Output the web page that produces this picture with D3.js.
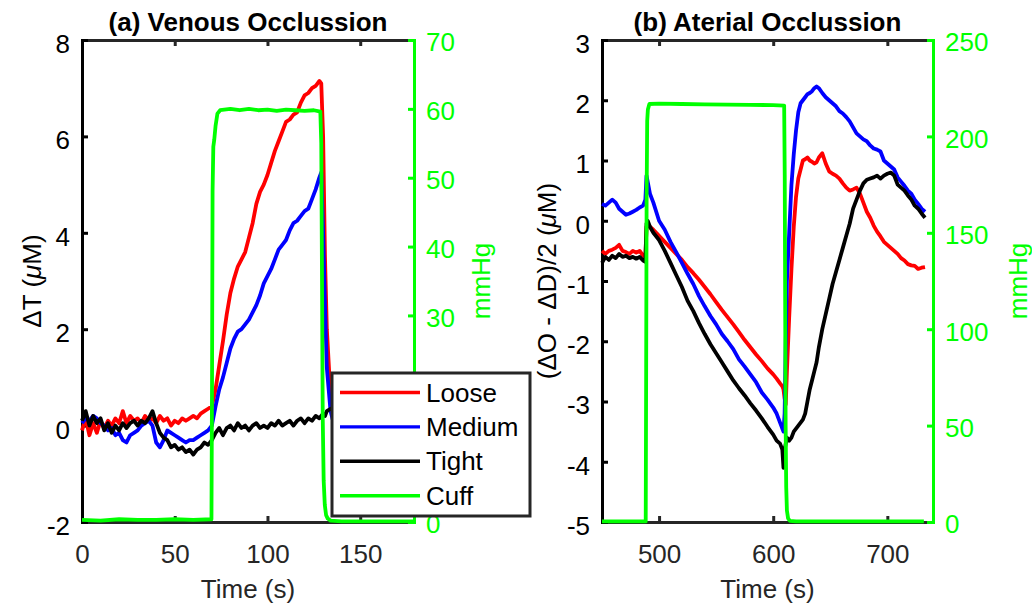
<!DOCTYPE html>
<html>
<head>
<meta charset="utf-8">
<script src="https://cdn.jsdelivr.net/npm/d3@7"></script>
<style>
body { margin: 0; background: #fff; }
svg text { font-family: "Liberation Sans", Arial, Helvetica, sans-serif; }
</style>
</head>
<body>
<svg id="chart" width="1032" height="607"></svg>
<script>
//------------------------------------------------------------
//--------------------------- DADOS ---------------------------
// (a) oclusao venosa - tempo (s) e sinais (uM)
var tVen = [0,2,4,6,8,10,12,14,16,18,
  20,22,24,26,28,30,32,34,36,38,
  40,42,44,46,48,50,52,54,56,58,
  60,62,64,66,68,70,72,74,76,78,
  80,82,84,86,88,90,92,94,96,98,
  100,102,104,106,108,110,112,114,116,118,
  120,122,124,126,128,129,130,131,132,134,
  136,138,140,145,150,155,160,165,170,175,
  178];
var looseVen = [-0.1,0.15,-0.2,0.05,-0.15,0.1,-0.05,0.1,0.0,0.15,
  0.05,0.3,0.05,0.2,0.1,0.15,0.05,0.2,0.1,0.15,
  0.05,0.2,0.1,0.15,0.0,0.1,0.05,0.15,0.1,0.15,
  0.2,0.15,0.25,0.3,0.35,0.4,0.75,1.25,1.75,2.3,
  2.75,3.05,3.3,3.45,3.6,3.9,4.2,4.6,4.85,5.0,
  5.2,5.45,5.7,5.9,6.1,6.3,6.35,6.45,6.5,6.7,
  6.85,6.9,7.0,7.05,7.15,7.1,6.0,3.5,2.0,0.6,
  0.2,0.1,0.1,0.05,0.0,0.05,0.0,0.05,0.0,0.05,
  0.0];
var mediumVen = [0.05,0.15,0.1,0.2,0.15,0.05,0.0,-0.1,-0.05,-0.2,
  -0.15,-0.3,-0.35,-0.2,-0.15,-0.1,0.0,0.05,0.1,0.0,
  -0.35,-0.45,-0.3,-0.1,-0.15,-0.2,-0.25,-0.3,-0.35,-0.3,
  -0.3,-0.25,-0.2,-0.15,-0.1,0.0,0.4,0.75,1.0,1.3,
  1.6,1.8,1.95,2.0,2.1,2.2,2.35,2.5,2.7,2.95,
  3.1,3.25,3.45,3.65,3.75,3.85,4.05,4.2,4.25,4.35,
  4.45,4.5,4.7,4.9,5.15,5.25,4.0,2.5,1.2,0.3,
  0.0,-0.05,0.0,0.05,0.0,0.1,0.05,0.1,0.05,0.1,
  0.1];
var tightVen = [0.1,0.3,0.0,0.2,0.05,0.15,-0.1,0.05,-0.15,0.0,
  -0.1,0.05,-0.05,0.05,0.1,0.0,0.1,0.05,0.15,0.3,
  0.05,-0.15,-0.25,-0.3,-0.45,-0.4,-0.5,-0.45,-0.55,-0.5,
  -0.6,-0.5,-0.45,-0.35,-0.4,-0.3,-0.15,-0.05,-0.2,-0.05,
  0.0,-0.1,0.05,-0.05,0.0,-0.1,0.0,0.05,-0.05,0.0,
  -0.05,0.05,0.0,0.1,0.0,0.05,0.1,0.0,0.1,0.15,
  0.05,0.15,0.1,0.2,0.15,0.2,0.25,0.2,0.3,0.35,
  0.3,0.35,0.3,0.35,0.3,0.35,0.3,0.35,0.3,0.35,
  0.3];
// pressao do manguito (mmHg)
var tCuffVen = [0,10,20,30,40,50,60,69.8,70.1,70.4,70.8,71.3,72,73,74.5,
  80,85,90,95,100,105,110,115,120,125,
  128.5,129.0,129.4,129.8,130.3,130.9,131.6,132.5,134,
  140,150,160,170,179];
var cuffVen = [0.3,0.2,0.4,0.3,0.3,0.4,0.3,0.4,20,48,54.5,55.5,57.5,59.3,59.8,
  60.0,59.8,60.0,59.8,59.9,59.7,59.9,59.8,59.7,59.8,
  59.6,55,35,15,6,2.5,1.0,0.5,0.2,
  0.1,0.1,0.1,0.1,0.1];

// (b) oclusao arterial
var tArt = [450,453,456,459,462,465,468,471,474,477,
  480,483,486,488,489,490,492,495,500,505,
  510,515,520,525,530,535,540,545,550,555,
  560,565,570,575,580,585,590,595,600,603,
  606,608,609,610,611,612,614,616,618,620,
  622,624,626,628,630,632,634,636,638,640,
  643,646,649,652,655,658,661,664,667,670,
  673,676,679,682,685,688,691,694,697,700,
  703,706,709,712,715,718,721,724,727,730,
  733];
var looseArt = [-0.5,-0.55,-0.5,-0.48,-0.45,-0.4,-0.5,-0.52,-0.55,-0.5,
  -0.53,-0.5,-0.58,-0.6,-0.1,-0.05,-0.1,-0.15,-0.25,-0.35,
  -0.45,-0.55,-0.65,-0.77,-0.87,-0.98,-1.1,-1.22,-1.35,-1.48,
  -1.6,-1.72,-1.85,-1.98,-2.1,-2.22,-2.33,-2.45,-2.55,-2.62,
  -2.7,-2.75,-2.8,-2.95,-3.05,-2.5,-1.6,-0.8,-0.1,0.4,
  0.7,0.85,1.0,1.02,1.05,1.0,0.98,0.95,0.97,1.05,
  1.12,0.95,0.82,0.78,0.75,0.7,0.62,0.55,0.5,0.52,
  0.55,0.45,0.3,0.15,0.05,-0.08,-0.18,-0.26,-0.35,-0.4,
  -0.45,-0.5,-0.55,-0.62,-0.66,-0.72,-0.74,-0.75,-0.8,-0.78,
  -0.77];
var mediumArt = [0.28,0.25,0.3,0.35,0.3,0.2,0.15,0.1,0.12,0.15,
  0.18,0.22,0.25,0.35,0.75,0.65,0.45,0.3,0.0,-0.15,
  -0.35,-0.52,-0.7,-0.88,-1.05,-1.25,-1.42,-1.58,-1.72,-1.88,
  -2.0,-2.13,-2.3,-2.42,-2.55,-2.68,-2.85,-2.97,-3.1,-3.2,
  -3.35,-3.45,-3.5,-3.2,-2.0,-1.0,-0.2,0.6,1.1,1.5,
  1.8,1.95,2.0,2.05,2.1,2.12,2.15,2.2,2.23,2.2,
  2.12,2.05,2.0,1.95,1.9,1.82,1.78,1.72,1.65,1.55,
  1.45,1.4,1.35,1.32,1.25,1.2,1.18,1.15,1.0,0.95,
  0.9,0.85,0.72,0.65,0.58,0.5,0.45,0.35,0.28,0.2,
  0.15];
var tightArt = [-0.7,-0.6,-0.65,-0.58,-0.62,-0.55,-0.6,-0.58,-0.62,-0.6,
  -0.63,-0.6,-0.66,-0.68,-0.05,0.0,-0.1,-0.2,-0.32,-0.5,
  -0.7,-0.9,-1.1,-1.33,-1.5,-1.7,-1.88,-2.05,-2.2,-2.35,
  -2.5,-2.65,-2.78,-2.9,-3.03,-3.15,-3.28,-3.42,-3.55,-3.65,
  -3.7,-3.8,-4.1,-3.8,-3.7,-3.6,-3.65,-3.6,-3.5,-3.45,
  -3.4,-3.35,-3.3,-3.2,-3.0,-2.8,-2.65,-2.5,-2.35,-2.1,
  -1.8,-1.55,-1.3,-1.05,-0.85,-0.65,-0.45,-0.25,-0.05,0.2,
  0.35,0.5,0.62,0.68,0.7,0.72,0.75,0.7,0.75,0.78,
  0.8,0.75,0.6,0.55,0.5,0.42,0.35,0.25,0.2,0.12,
  0.05];
var tCuffArt = [450,470,488.3,488.7,489.1,489.6,490.2,491.5,
  500,520,540,560,580,600,609.6,
  610.1,610.5,610.9,611.4,612,613,614.5,
  620,650,700,732];
var cuffArt = [0.3,0.3,0.3,80,170,208,214,216.8,
  217,216.8,216.6,216.5,216.4,216.2,216,
  180,110,50,18,6,2,0.6,
  0.3,0.3,0.3,0.3];

// ticks e rotulos
var xTicksVen = [0,50,100,150];
var yTicksVen = [-2,0,2,4,6,8];
var y2TicksVen = [0,10,20,30,40,50,60,70];
var y2TicksVenCobertos = [10,20]; // ficam atras da legenda
var xTicksArt = [500,600,700];
var yTicksArt = [-5,-4,-3,-2,-1,0,1,2,3];
var y2TicksArt = [0,50,100,150,200,250];
var nomesSeries = ["Loose","Medium","Tight","Cuff"];
var coresSeries = ["#ff0000","#0000ff","#000000","#00ff00"];

//------------------------------------------------------------
var svg = d3.select("#chart");
var TOPO = 40, BASE = 522;
var CINZA = "#262626", VERDE = "#00ff00";
var ESPESSURA = 3.8;

//rotulo do tick com hifen simples, como no original
function formataTick(d){
  return String(d);
}

//desenha um painel com dois eixos y
function desenhaPainel(p){
  var g = svg.append("g");
  var xScale = d3.scaleLinear().domain(p.xDom).range([p.esq, p.dir]);
  var yScale = d3.scaleLinear().domain(p.yDom).range([BASE, TOPO]);
  var y2Scale = d3.scaleLinear().domain(p.y2Dom).range([BASE, TOPO]);

  desenhaEixos(g, p, xScale, yScale, y2Scale);

  var linha = d3.line()
    .x(function(d){ return xScale(d[0]); })
    .y(function(d){ return yScale(d[1]); });
  var linha2 = d3.line()
    .x(function(d){ return xScale(d[0]); })
    .y(function(d){ return y2Scale(d[1]); });

  p.series.forEach(function(s, i){
    g.append("path")
      .datum(d3.zip(p.t, s))
      .attr("d", linha)
      .attr("fill", "none")
      .attr("stroke", coresSeries[i])
      .attr("stroke-width", ESPESSURA)
      .attr("stroke-linejoin", "round");
  });

  g.append("path")
    .datum(d3.zip(p.tCuff, p.cuff))
    .attr("d", linha2)
    .attr("fill", "none")
    .attr("stroke", VERDE)
    .attr("stroke-width", ESPESSURA)
    .attr("stroke-linejoin", "round");

  //titulo
  g.append("text")
    .attr("x", (p.esq + p.dir) / 2)
    .attr("y", 31)
    .attr("text-anchor", "middle")
    .attr("font-size", "26px")
    .attr("font-weight", "bold")
    .attr("fill", "#000")
    .text(p.titulo);

  //rotulo eixo x
  g.append("text")
    .attr("x", (p.esq + p.dir) / 2)
    .attr("y", 598)
    .attr("text-anchor", "middle")
    .attr("font-size", "26px")
    .attr("fill", CINZA)
    .text("Time (s)");

  //rotulo eixo y esquerdo
  var yl = g.append("text")
    .attr("transform", "translate(" + p.yLabelX + "," + ((TOPO + BASE) / 2) + ") rotate(-90)")
    .attr("text-anchor", "middle")
    .attr("font-size", "26px")
    .attr("fill", "#000");
  p.yLabel.forEach(function(parte){
    yl.append("tspan").attr("font-style", parte[1] ? "italic" : "normal").text(parte[0]);
  });

  //rotulo eixo y direito
  g.append("text")
    .attr("transform", "translate(" + p.y2LabelX + "," + ((TOPO + BASE) / 2) + ") rotate(-90)")
    .attr("text-anchor", "middle")
    .attr("font-size", "26px")
    .attr("fill", VERDE)
    .text("mmHg");
}

//eixos - ticks para dentro, estilo matlab
function desenhaEixos(g, p, xScale, yScale, y2Scale){
  var eixoX = g.append("g").attr("transform", "translate(0," + BASE + ")")
    .call(d3.axisBottom(xScale).tickValues(p.xTicks).tickFormat(formataTick)
      .tickSizeInner(-6).tickSizeOuter(0).tickPadding(23));
  var eixoTopo = g.append("g").attr("transform", "translate(0," + TOPO + ")")
    .call(d3.axisTop(xScale).tickValues(p.xTicks).tickSizeInner(-6).tickSizeOuter(0).tickFormat(""));
  [eixoX, eixoTopo].forEach(function(e){
    e.selectAll("path,line").attr("stroke", CINZA).attr("stroke-width", 3);
    e.select(".domain").attr("stroke-linecap", "square");
    e.selectAll("text").attr("font-size", "26px").attr("fill", CINZA).attr("font-family", null);
  });

  var eixoY = g.append("g").attr("transform", "translate(" + p.esq + ",0)")
    .call(d3.axisLeft(yScale).tickValues(p.yTicks).tickFormat(formataTick)
      .tickSizeInner(-6).tickSizeOuter(0).tickPadding(12));
  eixoY.selectAll("path,line").attr("stroke", "#000").attr("stroke-width", 3);
  eixoY.select(".domain").attr("stroke-linecap", "square");
  eixoY.selectAll("text").attr("font-size", "26px").attr("fill", "#000").attr("dy", "0.48em").attr("font-family", null);

  //rotulos que a legenda tapa no original nao sao escritos
  var cobertos = p.y2Cobertos || [];
  var eixoY2 = g.append("g").attr("transform", "translate(" + p.dir + ",0)")
    .call(d3.axisRight(y2Scale).tickValues(p.y2Ticks)
      .tickFormat(function(d){ return cobertos.indexOf(d) >= 0 ? "" : formataTick(d); })
      .tickSizeInner(-6).tickSizeOuter(0).tickPadding(12));
  eixoY2.selectAll("path,line").attr("stroke", VERDE).attr("stroke-width", 3);
  eixoY2.select(".domain").attr("stroke-linecap", "square");
  eixoY2.selectAll("text").attr("font-size", "26px").attr("fill", VERDE).attr("dy", "0.42em").attr("font-family", null);
}

//legenda do painel (a)
function desenhaLegenda(){
  var lg = svg.append("g");
  lg.append("rect")
    .attr("x", 332).attr("y", 373)
    .attr("width", 198).attr("height", 143)
    .attr("fill", "#fff")
    .attr("stroke", CINZA)
    .attr("stroke-width", 3);
  nomesSeries.forEach(function(nome, i){
    var yy = 392.5 + i * 34.4;
    lg.append("line")
      .attr("x1", 340).attr("x2", 420)
      .attr("y1", yy).attr("y2", yy)
      .attr("stroke", coresSeries[i])
      .attr("stroke-width", 3.4);
    lg.append("text")
      .attr("x", 426).attr("y", yy + 9)
      .attr("font-size", "26px")
      .attr("fill", "#000")
      .text(nome);
  });
}

desenhaPainel({
  titulo: "(a) Venous Occlussion",
  esq: 82, dir: 414,
  xDom: [0, 179], yDom: [-2, 8], y2Dom: [0, 70],
  xTicks: xTicksVen, yTicks: yTicksVen, y2Ticks: y2TicksVen,
  y2Cobertos: y2TicksVenCobertos,
  t: tVen, series: [looseVen, mediumVen, tightVen],
  tCuff: tCuffVen, cuff: cuffVen,
  yLabel: [["\u0394T ("], ["\u03bc", true], ["M)"]],
  yLabelX: 41, y2LabelX: 490
});

desenhaPainel({
  titulo: "(b) Aterial Occlussion",
  esq: 602, dir: 933,
  xDom: [450, 740], yDom: [-5, 3], y2Dom: [0, 250],
  xTicks: xTicksArt, yTicks: yTicksArt, y2Ticks: y2TicksArt,
  t: tArt, series: [looseArt, mediumArt, tightArt],
  tCuff: tCuffArt, cuff: cuffArt,
  yLabel: [["(\u0394O - \u0394D)/2 ("], ["\u03bc", true], ["M)"]],
  yLabelX: 556, y2LabelX: 1027
});

desenhaLegenda();
</script>
</body>
</html>
